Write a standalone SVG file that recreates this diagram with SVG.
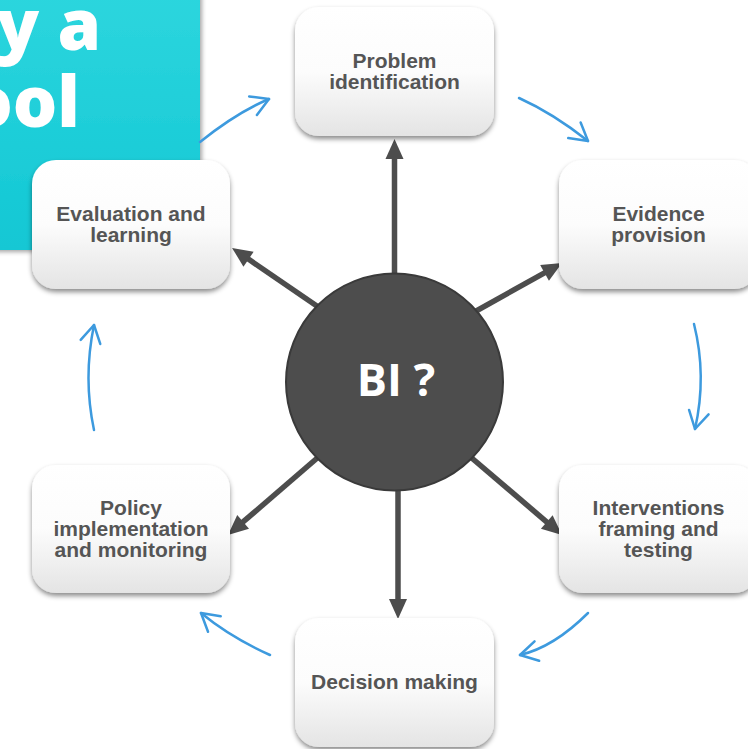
<svg xmlns="http://www.w3.org/2000/svg" width="748" height="749" viewBox="0 0 748 749">
<defs>
<linearGradient id="teal" x1="0" y1="0" x2="0" y2="1">
<stop offset="0" stop-color="#2dd6de"/>
<stop offset="1" stop-color="#12c7d4"/>
</linearGradient>
<linearGradient id="nodeFill" x1="0" y1="0" x2="0" y2="1">
<stop offset="0" stop-color="#ffffff"/>
<stop offset="0.5" stop-color="#fcfcfc"/>
<stop offset="1" stop-color="#e4e4e4"/>
</linearGradient>
<filter id="shadow" x="-20%" y="-20%" width="140%" height="150%">
<feDropShadow dx="0" dy="3" stdDeviation="2.5" flood-color="#000" flood-opacity="0.45"/>
</filter>
<filter id="tealShadow" x="-10%" y="-10%" width="125%" height="125%">
<feDropShadow dx="2" dy="2" stdDeviation="2" flood-color="#000" flood-opacity="0.35"/>
</filter>
<marker id="darkHead" markerUnits="userSpaceOnUse" markerWidth="22" markerHeight="20" refX="2" refY="9" orient="auto" overflow="visible">
<path d="M0,0 L20,9 L0,18 Z" fill="#4d4d4d"/>
</marker>
<marker id="blueHead" markerUnits="userSpaceOnUse" markerWidth="20" markerHeight="22" refX="17.3" refY="10" orient="auto" overflow="visible">
<path d="M0,0 L17.3,10 L0,20" fill="none" stroke="#3d9ade" stroke-width="2.5" stroke-linecap="round" stroke-linejoin="round"/>
</marker>
</defs>
<style>
.box{fill:url(#nodeFill);filter:url(#shadow);}
.lbl{font-family:"Liberation Sans",Arial,sans-serif;font-weight:bold;font-size:21px;fill:#555555;text-anchor:middle;}
.dark{stroke:#4d4d4d;stroke-width:5.5;fill:none;marker-end:url(#darkHead);}
.blue{stroke:#3d9ade;stroke-width:2.5;fill:none;stroke-linecap:round;marker-end:url(#blueHead);}
.title{font-family:"Open Sans","DejaVu Sans",sans-serif;font-weight:800;font-size:70px;fill:#ffffff;text-anchor:end;}
</style>
<rect width="748" height="749" fill="#ffffff"/>
<g id="title-panel">
<rect x="-10" y="-10" width="210" height="260" fill="url(#teal)" filter="url(#tealShadow)"/>
<text class="title" x="101" y="50">ly a</text>
<text class="title" x="80" y="127">ool</text>
</g>
<g id="connectors">
<line class="dark" x1="394.5" y1="300" x2="394.5" y2="157"/>
<line class="dark" x1="398" y1="470" x2="398" y2="601"/>
<line class="dark" x1="460" y1="320" x2="546.3" y2="271.8"/>
<line class="dark" x1="330" y1="315" x2="246.9" y2="258.1"/>
<line class="dark" x1="330" y1="447" x2="241.6" y2="523.2"/>
<line class="dark" x1="460" y1="448" x2="548.3" y2="523.3"/>
<path class="blue" d="M200,142 Q237,112.4 269,99"/>
<path class="blue" d="M519,98 Q553,113.3 588,141"/>
<path class="blue" d="M694,324 Q707,376 695,429"/>
<path class="blue" d="M588,613 Q554,647 520,655"/>
<path class="blue" d="M270,655 Q230.6,637.3 201,613"/>
<path class="blue" d="M94,430 Q83,378 94,325"/>
</g>
<g id="bi-center">
<circle cx="394.5" cy="382" r="108.5" fill="#4d4d4d" stroke="#3a3a3a" stroke-width="2"/>
<text x="396" y="396" font-family="'Open Sans','DejaVu Sans',sans-serif" font-weight="700" font-size="45" fill="#ffffff" text-anchor="middle">BI ?</text>
</g>
<g id="problem-identification">
<rect class="box" x="295" y="7" width="199" height="129" rx="24"/>
<text class="lbl" x="394.5" y="68">Problem</text>
<text class="lbl" x="394.5" y="89">identification</text>
</g>
<g id="evidence-provision">
<rect class="box" x="559" y="160" width="199" height="129" rx="24"/>
<text class="lbl" x="658.5" y="221">Evidence</text>
<text class="lbl" x="658.5" y="242">provision</text>
</g>
<g id="interventions">
<rect class="box" x="559" y="465" width="199" height="128" rx="24"/>
<text class="lbl" x="658.5" y="515">Interventions</text>
<text class="lbl" x="658.5" y="536">framing and</text>
<text class="lbl" x="658.5" y="557">testing</text>
</g>
<g id="decision-making">
<rect class="box" x="295" y="618" width="199" height="129" rx="24"/>
<text class="lbl" x="394.5" y="689">Decision making</text>
</g>
<g id="policy-implementation">
<rect class="box" x="32" y="465" width="198" height="128" rx="24"/>
<text class="lbl" x="131" y="515">Policy</text>
<text class="lbl" x="131" y="536">implementation</text>
<text class="lbl" x="131" y="557">and monitoring</text>
</g>
<g id="evaluation-learning">
<rect class="box" x="32" y="160" width="198" height="129" rx="24"/>
<text class="lbl" x="131" y="221">Evaluation and</text>
<text class="lbl" x="131" y="242">learning</text>
</g>
</svg>
